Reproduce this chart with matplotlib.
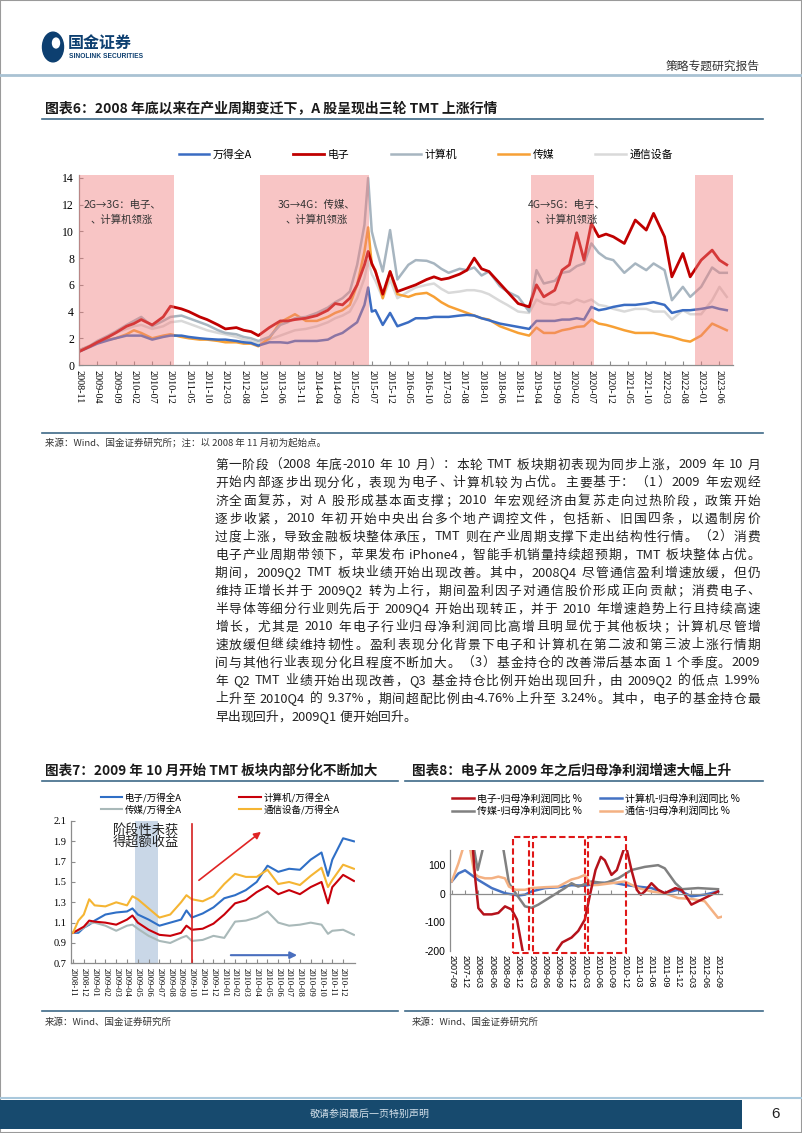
import re
import matplotlib
matplotlib.use('Agg')
import matplotlib.pyplot as plt
from matplotlib.lines import Line2D
from matplotlib.patches import Rectangle, Circle

plt.rcParams['font.family'] = ['Noto Sans CJK SC', 'DejaVu Sans']
plt.rcParams['axes.unicode_minus'] = False

W, H = 802, 1133

# ---------- Figure 6 data: index level since 2008-11 (month index) ----------
months6 = [0, 3, 5, 8, 10, 13, 15, 17, 20, 23, 25, 28, 30, 33, 35, 38, 40, 43, 45, 47,
           49, 52, 55, 57, 59, 62, 65, 68, 70, 72, 74, 76, 78, 79, 80, 81, 83, 85, 87, 90,
           92, 95, 97, 99, 101, 104, 106, 108, 110, 112, 115, 117, 120, 123, 125, 127, 130,
           132, 134, 136, 138, 140, 142, 144, 146, 149, 152, 155, 157, 160, 162, 165, 167,
           170, 173, 175, 177]
wind_a = [1.0, 1.35, 1.6, 1.85, 2.0, 2.2, 2.2, 2.2, 1.9, 2.1, 2.2, 2.2, 2.1, 2.0, 1.95, 1.9,
          1.9, 1.8, 1.7, 1.65, 1.45, 1.7, 1.7, 1.65, 1.8, 1.8, 1.8, 1.9, 2.2, 2.4, 2.8, 3.2,
          4.5, 5.8, 4.0, 4.1, 3.0, 3.9, 2.9, 3.2, 3.5, 3.5, 3.6, 3.6, 3.6, 3.7, 3.75, 3.7,
          3.5, 3.35, 3.1, 3.0, 2.85, 2.7, 3.3, 3.3, 3.3, 3.4, 3.4, 3.5, 3.4, 4.35, 4.1, 4.2,
          4.35, 4.5, 4.5, 4.6, 4.7, 4.5, 3.9, 4.1, 4.1, 4.2, 4.35, 4.2, 4.1]
electronics = [1.0, 1.4, 1.7, 2.1, 2.4, 2.9, 3.1, 3.4, 3.0, 3.6, 4.4, 4.2, 4.0, 3.6, 3.4, 3.0,
               2.7, 2.8, 2.6, 2.5, 2.2, 2.8, 3.3, 3.3, 3.4, 3.5, 3.7, 4.1, 4.6, 4.5, 5.0, 6.0,
               7.5, 8.5, 7.6, 7.0, 5.3, 7.0, 5.5, 5.8, 6.0, 6.4, 6.6, 6.4, 6.5, 6.8, 7.1, 8.0,
               7.2, 7.0, 6.1, 5.5, 4.6, 4.35, 6.0, 5.1, 5.6, 7.1, 7.5, 9.9, 7.85, 10.6, 9.6,
               9.8, 9.6, 9.1, 10.85, 10.1, 11.35, 9.6, 6.6, 8.35, 6.6, 7.85, 8.6, 7.85, 7.5]
computer = [1.1, 1.45, 1.8, 2.2, 2.5, 3.0, 3.3, 3.6, 2.9, 3.3, 3.6, 3.7, 3.5, 3.2, 3.0, 2.6,
            2.4, 2.3, 2.1, 2.0, 1.8, 2.1, 3.0, 3.2, 3.5, 3.6, 3.9, 4.3, 4.7, 5.0, 5.5, 7.5,
            10.5, 14.0, 10.0, 8.9, 7.0, 10.1, 6.4, 7.5, 7.85, 7.8, 7.6, 7.2, 6.9, 7.2, 7.1,
            7.3, 6.7, 7.0, 5.9, 5.5, 5.1, 4.0, 7.1, 6.1, 6.3, 6.9, 7.0, 7.4, 7.6, 9.1, 8.4,
            8.0, 7.85, 6.9, 7.6, 7.1, 7.6, 7.1, 4.85, 5.85, 5.1, 5.85, 7.3, 6.9, 6.9]
media = [1.1, 1.4, 1.7, 1.9, 2.0, 2.3, 2.6, 2.4, 2.0, 2.2, 2.3, 2.1, 2.0, 1.9, 1.9, 1.8, 1.7,
         1.7, 1.6, 1.6, 1.4, 2.0, 3.2, 3.5, 3.8, 3.3, 3.3, 3.6, 3.9, 4.1, 4.5, 6.0, 8.5, 10.3,
         7.5, 7.1, 5.0, 7.0, 5.3, 5.1, 5.3, 5.4, 5.1, 4.7, 4.4, 4.1, 3.9, 3.7, 3.5, 3.4, 2.9,
         2.7, 2.4, 2.2, 2.8, 2.4, 2.4, 2.6, 2.7, 2.85, 2.9, 3.4, 3.1, 3.0, 2.85, 2.6, 2.4,
         2.4, 2.4, 2.2, 2.1, 1.85, 1.75, 2.2, 3.1, 2.85, 2.6]
telecom = [1.1, 1.4, 1.7, 2.1, 2.4, 2.7, 2.9, 3.0, 2.7, 2.9, 3.2, 3.3, 3.1, 2.8, 2.6, 2.4,
           2.3, 2.1, 1.9, 1.8, 1.6, 1.9, 2.2, 2.4, 2.6, 2.7, 2.9, 3.2, 3.5, 3.7, 4.0, 5.0,
           6.5, 7.8, 6.8, 6.3, 5.0, 6.4, 5.0, 5.5, 5.8, 6.0, 6.1, 5.7, 5.4, 5.5, 5.6, 5.6,
           5.5, 5.3, 4.8, 4.5, 4.0, 3.9, 4.9, 4.6, 4.5, 4.7, 4.6, 4.9, 4.7, 4.9, 4.5, 4.4,
           4.2, 4.0, 4.2, 4.2, 4.0, 4.0, 3.4, 4.1, 3.8, 3.8, 4.85, 5.85, 5.1]
names6 = ['万得全A', '电子', '计算机', '传媒', '通信设备']
ticks6 = list(range(0, 176, 5))
ticklabels6 = ['2008-11', '2009-04', '2009-09', '2010-02', '2010-07', '2010-12', '2011-05',
               '2011-10', '2012-03', '2012-08', '2013-01', '2013-06', '2013-11', '2014-04',
               '2014-09', '2015-02', '2015-07', '2015-12', '2016-05', '2016-10', '2017-03',
               '2017-08', '2018-01', '2018-06', '2018-11', '2019-04', '2019-09', '2020-02',
               '2020-07', '2020-12', '2021-05', '2021-10', '2022-03', '2022-08', '2023-01',
               '2023-06']
shade6 = [(0, 26), (49.5, 79.2), (123.5, 140.7), (168.3, 178.7)]

# ---------- Figure 7 data: relative to Wind All A (month index from 2008-11) ----------
months7 = [0, 0.5, 1, 1.5, 2, 3, 4, 5, 5.5, 6, 7, 8, 9, 10, 10.5, 11, 12, 13, 14, 15, 16, 17,
           18, 19, 20, 21, 22, 23, 23.6, 24, 25, 26]
elec_rel = [1.0, 1.0, 1.05, 1.08, 1.12, 1.18, 1.2, 1.21, 1.24, 1.18, 1.13, 1.07, 1.10, 1.13,
            1.22, 1.15, 1.19, 1.25, 1.34, 1.37, 1.42, 1.50, 1.66, 1.60, 1.63, 1.62, 1.72,
            1.79, 1.56, 1.72, 1.93, 1.90]
comp_rel = [1.0, 1.03, 1.06, 1.12, 1.11, 1.10, 1.08, 1.13, 1.17, 1.10, 1.03, 0.98, 0.97, 1.0,
            1.07, 1.03, 1.04, 1.09, 1.18, 1.29, 1.32, 1.40, 1.46, 1.38, 1.42, 1.38, 1.45,
            1.50, 1.29, 1.45, 1.57, 1.51]
media_rel = [1.0, 1.02, 1.05, 1.09, 1.10, 1.07, 1.02, 1.07, 1.08, 1.04, 0.97, 0.92, 0.90,
             0.95, 0.97, 0.92, 0.93, 0.97, 0.95, 1.11, 1.12, 1.15, 1.21, 1.10, 1.07, 1.08,
             1.10, 1.08, 0.99, 1.02, 1.03, 0.98]
tele_rel = [1.0, 1.12, 1.18, 1.33, 1.27, 1.26, 1.30, 1.27, 1.36, 1.33, 1.24, 1.15, 1.18, 1.30,
            1.37, 1.33, 1.31, 1.36, 1.48, 1.58, 1.55, 1.55, 1.62, 1.48, 1.50, 1.47, 1.56,
            1.64, 1.45, 1.52, 1.67, 1.63]
names7 = ['电子/万得全A', '传媒/万得全A', '计算机/万得全A', '通信设备/万得全A']
ticklabels7 = ['2008-11', '2008-12', '2009-01', '2009-02', '2009-03', '2009-04', '2009-05',
               '2009-06', '2009-07', '2009-08', '2009-09', '2009-10', '2009-11', '2009-12',
               '2010-01', '2010-02', '2010-03', '2010-04', '2010-05', '2010-06', '2010-07',
               '2010-08', '2010-09', '2010-10', '2010-11', '2010-12']

# ---------- Figure 8 data: net profit YoY % (quarter index from 2007-09) ----------
q_elec = [1.5, 1.6, 1.75, 2.0, 2.4, 3.0, 3.5, 4.0, 4.5, 4.9, 5.3, 5.5, 6.5, 7.5, 7.9, 8.3, 9.0,
          9.5, 10.0, 10.4, 10.8, 11.2, 11.5, 12.0, 12.4, 12.9, 13.1, 13.5, 13.9, 14.2, 14.5,
          15.0, 15.5, 16.0, 16.8, 17.3, 18.0, 19.0, 20.0]
v_elec = [260, 150, 60, -50, -72, -72, -67, -44, -55, -90, -193, -240, -330, -290, -197, -170,
          -153, -130, -90, 0, 83, 129, 117, 66, 83, 152, 165, 83, 14, -3, 8, 37, 14, 2, 20, 12,
          -38, -15, 8]
q_comp = [0, 0.5, 1, 1.5, 2, 3, 4, 5, 5.5, 6, 7, 8, 9, 10, 11, 12, 13, 14, 15, 16, 17, 18, 19, 20]
v_comp = [43, 71, 82, 65, 48, 20, 2, -6, -3, 8, 20, 23, 30, 28, 37, 40, 31, 25, 20, 2, 14, -9,
          -3, 8]
q_media = [1.5, 1.7, 1.95, 2.3, 2.6, 3.5, 3.9, 4.3, 4.8, 5.5, 6.0, 6.5, 7.5, 8.5, 9.0, 9.5,
           10.5, 11.5, 12.5, 13.5, 14.5, 15.5, 16.0, 16.8, 17.3, 18.5, 20.0]
v_media = [300, 150, 83, 150, 300, 300, 150, 37, 2, -44, -49, -38, -9, 20, 37, 25, 43, 37, 54,
           83, 94, 100, 89, 37, 16, 20, 16]
q_tele = [0, 0.5, 0.8, 1.1, 1.4, 1.7, 2.0, 2.5, 3.0, 3.5, 4.0, 4.3, 4.8, 5.5, 6.0, 7.0, 8.0,
          9.0, 9.5, 10.0, 10.5, 11.0, 12.0, 13.0, 14.0, 15.0, 16.0, 17.0, 18.0, 19.0, 19.5,
          20.0, 20.3]
v_tele = [43, 106, 152, 200, 152, 71, 60, 54, 54, 60, 54, 25, 14, 14, 20, 23, 25, 50, 56, 66,
          30, 31, 37, 43, 20, 8, 2, -15, -18, -26, -55, -84, -80]
names8 = ['电子-归母净利润同比 %', '传媒-归母净利润同比 %', '计算机-归母净利润同比 %',
          '通信-归母净利润同比 %']
ticklabels8 = ['2007-09', '2007-12', '2008-03', '2008-06', '2008-09', '2008-12', '2009-03',
               '2009-06', '2009-09', '2009-12', '2010-03', '2010-06', '2010-09', '2010-12',
               '2011-03', '2011-06', '2011-09', '2011-12', '2012-03', '2012-06', '2012-09']
boxes8 = [(4.6, 5.8), (6.1, 10.0), (10.2, 13.1)]

paragraph = [
    '第一阶段（2008 年底-2010 年 10 月）：本轮 TMT 板块期初表现为同步上涨，2009 年 10 月',
    '开始内部逐步出现分化，表现为电子、计算机较为占优。主要基于：（1）2009 年宏观经',
    '济全面复苏，对 A 股形成基本面支撑；2010 年宏观经济由复苏走向过热阶段，政策开始',
    '逐步收紧，2010 年初开始中央出台多个地产调控文件，包括新、旧国四条，以遏制房价',
    '过度上涨，导致金融板块整体承压，TMT 则在产业周期支撑下走出结构性行情。（2）消费',
    '电子产业周期带领下，苹果发布 iPhone4，智能手机销量持续超预期，TMT 板块整体占优。',
    '期间，2009Q2 TMT 板块业绩开始出现改善。其中，2008Q4 尽管通信盈利增速放缓，但仍',
    '维持正增长并于 2009Q2 转为上行，期间盈利因子对通信股价形成正向贡献；消费电子、',
    '半导体等细分行业则先后于 2009Q4 开始出现转正，并于 2010 年增速趋势上行且持续高速',
    '增长，尤其是 2010 年电子行业归母净利润同比高增且明显优于其他板块；计算机尽管增',
    '速放缓但继续维持韧性。盈利表现分化背景下电子和计算机在第二波和第三波上涨行情期',
    '间与其他行业表现分化且程度不断加大。（3）基金持仓的改善滞后基本面 1 个季度。2009',
    '年 Q2 TMT 业绩开始出现改善，Q3 基金持仓比例开始出现回升，由 2009Q2 的低点 1.99%',
    '上升至 2010Q4 的 9.37%，期间超配比例由-4.76%上升至 3.24%。其中，电子的基金持仓最',
    '早出现回升，2009Q1 便开始回升。',
]

fig = plt.figure(figsize=(8.02, 11.33), dpi=100)


def fx(x):
    return x / W


def fy(y):
    return 1 - y / H


def rect(l, t, r, b):
    return [l / W, 1 - b / H, (r - l) / W, (b - t) / H]


def hline(x0, x1, y, color, lw):
    fig.add_artist(Line2D([fx(x0), fx(x1)], [fy(y), fy(y)], color=color, lw=lw))


def style_axes(ax):
    for s in ['top', 'right']:
        ax.spines[s].set_visible(False)
    for s in ['left', 'bottom']:
        ax.spines[s].set_color('#8c8c8c')
        ax.spines[s].set_linewidth(0.9)
    ax.tick_params(direction='in', length=3, color='#8c8c8c', width=0.8)


# page frame
fig.add_artist(Rectangle((0, 0), 1, 1, transform=fig.transFigure, fill=False,
                         ec='#9a9a9a', lw=1.5))

# ---------- header ----------
fig.add_artist(Circle((fx(53), fy(47)), 10.5 / W, transform=fig.transFigure,
                      color='#0d3f70'))
fig.add_artist(Circle((fx(56), fy(43)), 3.5 / W, transform=fig.transFigure,
                      color='white'))
fig.text(fx(68), fy(43), '国金证券', fontsize=11.5, fontweight='bold', color='#0d3f70',
         va='center', ha='left')
fig.text(fx(69), fy(56), 'SINOLINK SECURITIES', fontsize=4.8, fontweight='bold',
         color='#0d3f70', va='center', ha='left', family='Liberation Sans')
fig.text(fx(760), fy(66), '策略专题研究报告', fontsize=8.5, color='#333333',
         ha='right', va='center')
hline(0, 802, 75, '#a9c2d3', 2.0)

# ---------- Figure 6 ----------
fig.text(fx(45), fy(108), '图表6：2008 年底以来在产业周期变迁下，A 股呈现出三轮 TMT 上涨行情',
         fontsize=10, fontweight='bold', color='#1a1a1a', va='center', ha='left')
hline(42, 763, 119, '#3e6a88', 1.2)

ax6 = fig.add_axes(rect(79, 175.3, 733, 365))
l_tel, = ax6.plot(months6, telecom, color='#d9d9d9', lw=1.8)
l_med, = ax6.plot(months6, media, color='#f7a035', lw=1.8)
l_win, = ax6.plot(months6, wind_a, color='#3a6cc2', lw=1.8)
l_com, = ax6.plot(months6, computer, color='#a7b5c0', lw=1.8)
l_ele, = ax6.plot(months6, electronics, color='#c00000', lw=2.0)
for a, b in shade6:
    ax6.axvspan(a, b, color='#f08080', alpha=0.45, lw=0, zorder=5)
ax6.set_xlim(0, 178.7)
ax6.set_ylim(0, 14.2)
ax6.set_yticks(range(0, 15, 2))
ax6.set_xticks(ticks6)
ax6.set_xticklabels(ticklabels6, rotation=270, fontsize=7.3, family='Liberation Serif')
plt.setp(ax6.get_yticklabels(), family='Liberation Serif', fontsize=8.5)
style_axes(ax6)
ax6.legend([l_win, l_ele, l_com, l_med, l_tel], names6, loc='center',
           bbox_to_anchor=(fx(426), fy(155)), bbox_transform=fig.transFigure, ncol=5,
           frameon=False, fontsize=7.8, handlelength=2.8, handletextpad=0.35,
           columnspacing=3.8)
for cx, l1 in [(122, '2G→3G：电子、'), (317, '3G→4G：传媒、'), (567, '4G→5G：电子、')]:
    fig.text(fx(cx), fy(205), l1, fontsize=7.5, color='#333333', ha='center', va='center')
    fig.text(fx(cx), fy(220), '、计算机领涨', fontsize=7.5, color='#333333', ha='center',
             va='center')

hline(42, 763, 433, '#3e6a88', 1.2)
fig.text(fx(45), fy(443), '来源：Wind、国金证券研究所；注：以 2008 年 11 月初为起始点。',
         fontsize=6.8, color='#333333', va='center', ha='left')

# ---------- paragraph (justified) ----------
renderer = fig.canvas.get_renderer()


def put_line(txt, y, x0=215, x1=760, size=9.2, justify=True):
    toks = re.findall(r'[!-~]+| |.', txt)
    objs, widths = [], []
    for t in toks:
        if t == ' ':
            objs.append(None)
            widths.append(size * 100 / 72 * 0.25)
            continue
        o = fig.text(0, fy(y), t, fontsize=size, va='center', ha='left', color='#222222')
        widths.append(o.get_window_extent(renderer).width)
        objs.append(o)
    gap = 0.0
    if justify and len(toks) > 1:
        gap = (x1 - x0 - sum(widths)) / (len(toks) - 1)
    x = x0
    for o, w in zip(objs, widths):
        if o is not None:
            o.set_x(x / W)
        x += w + gap


for i, line in enumerate(paragraph):
    put_line(line, 465 + 18 * i, justify=(i < len(paragraph) - 1))

# ---------- Figure 7 ----------
fig.text(fx(45), fy(771), '图表7：2009 年 10 月开始 TMT 板块内部分化不断加大',
         fontsize=9.8, fontweight='bold', color='#1a1a1a', va='center', ha='left')
hline(42, 398, 781, '#3e6a88', 1.2)

ax7 = fig.add_axes(rect(71, 821, 355, 963.3))
ax7.axvspan(5.7, 7.9, color='#c9d7e7', lw=0, zorder=0)
m_ele, = ax7.plot(months7, elec_rel, color='#2f6fc6', lw=1.5)
m_med, = ax7.plot(months7, media_rel, color='#a9b9b9', lw=1.5)
m_com, = ax7.plot(months7, comp_rel, color='#c8000a', lw=1.5)
m_tel, = ax7.plot(months7, tele_rel, color='#f5b533', lw=1.5)
ax7.axvline(11, ymax=0.98, color='#d42020', lw=1.2)
ax7.annotate('', xy=(17.6, 2.01), xytext=(11.45, 1.50),
             arrowprops=dict(arrowstyle='-|>', color='#e02424', lw=1.2, mutation_scale=10))
ax7.annotate('', xy=(21.0, 0.78), xytext=(14.35, 0.78),
             arrowprops=dict(arrowstyle='-|>', color='#4a6fbe', lw=1.5, mutation_scale=10))
ax7.set_xlim(-0.185, 26.1)
ax7.set_ylim(0.7, 2.1)
ax7.set_yticks([0.7, 0.9, 1.1, 1.3, 1.5, 1.7, 1.9, 2.1])
ax7.set_yticklabels(['0.7', '0.9', '1.1', '1.3', '1.5', '1.7', '1.9', '2.1'],
                    family='Liberation Serif', fontsize=7.5)
ax7.set_xticks(range(len(ticklabels7)))
ax7.set_xticklabels(ticklabels7, rotation=270, fontsize=6.2, family='Liberation Serif')
style_axes(ax7)
ax7.legend([m_ele, m_med, m_com, m_tel], names7, loc='center',
           bbox_to_anchor=(fx(220), fy(803.5)), bbox_transform=fig.transFigure, ncol=2,
           frameon=False, fontsize=6.8, handlelength=2.3, handletextpad=0.3,
           columnspacing=6.0, labelspacing=0.15)
fig.text(fx(146), fy(830), '阶段性未获', fontsize=9.5, color='#222222', ha='center',
         va='center')
fig.text(fx(146), fy(843), '得超额收益', fontsize=9.5, color='#222222', ha='center',
         va='center')

hline(42, 398, 1011, '#3e6a88', 1.2)
fig.text(fx(45), fy(1022), '来源：Wind、国金证券研究所', fontsize=6.8, color='#333333',
         va='center', ha='left')

# ---------- Figure 8 ----------
fig.text(fx(412), fy(771), '图表8：电子从 2009 年之后归母净利润增速大幅上升',
         fontsize=9.8, fontweight='bold', color='#1a1a1a', va='center', ha='left')
hline(405, 763, 781, '#3e6a88', 1.2)

ax8 = fig.add_axes(rect(450, 850, 722, 951))
style_axes(ax8)
ax8.spines['bottom'].set_position(('data', 0))
n_com, = ax8.plot(q_comp, v_comp, color='#4472c4', lw=1.8)
n_med, = ax8.plot(q_media, v_media, color='#808080', lw=1.8)
n_tel, = ax8.plot(q_tele, v_tele, color='#f4b183', lw=1.8)
n_ele, = ax8.plot(q_elec, v_elec, color='#b5121b', lw=1.8)
for a, b in boxes8:
    ax8.add_patch(Rectangle((a, -206), b - a, 404, fill=False, ec='#e01818', lw=1.5,
                            ls=(0, (3, 1.5)), clip_on=False, zorder=6))
ax8.set_xlim(-0.13, 20.3)
ax8.set_ylim(-200, 153)
ax8.set_yticks([-200, -100, 0, 100])
ax8.set_yticklabels(['-200', '-100', '0', '100'], family='Liberation Sans', fontsize=7.5)
ax8.set_xticks(range(len(ticklabels8)))
ax8.set_xticklabels(ticklabels8, rotation=270, fontsize=6.5, family='Liberation Sans')
ax8.tick_params(axis='x', direction='in', length=3, color='#8c8c8c', pad=44)
ax8.tick_params(axis='y', length=0)
ax8.legend([n_ele, n_med, n_com, n_tel], names8, loc='center',
           bbox_to_anchor=(fx(596), fy(805)), bbox_transform=fig.transFigure, ncol=2,
           frameon=False, fontsize=7.2, handlelength=2.2, handletextpad=0.3,
           columnspacing=1.8, labelspacing=0.25)

hline(405, 763, 1011, '#3e6a88', 1.2)
fig.text(fx(412), fy(1022), '来源：Wind、国金证券研究所', fontsize=6.8, color='#333333',
         va='center', ha='left')

# ---------- footer ----------
hline(0, 802, 1098, '#a9c8dc', 1.5)
fig.add_artist(Rectangle((0, fy(1129)), fx(742), (1129 - 1100) / H,
                         transform=fig.transFigure, color='#174a6e', lw=0))
fig.text(fx(370), fy(1114), '敬请参阅最后一页特别声明', fontsize=7.2, color='#d3e0ea',
         ha='center', va='center')
fig.text(fx(775), fy(1114), '6', fontsize=11, color='#222222', ha='center', va='center',
         family='Liberation Sans')

fig.savefig('out.png', dpi=100)
